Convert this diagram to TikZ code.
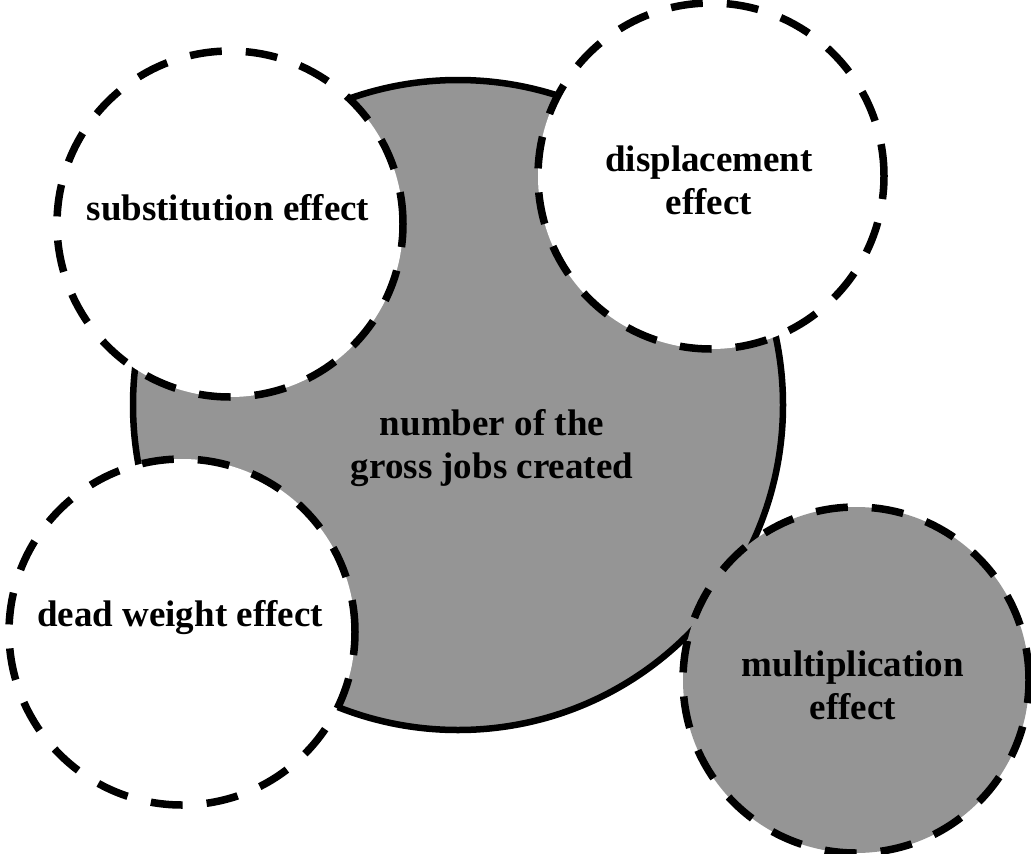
\documentclass[tikz,border=0pt]{standalone}
\usepackage{fontspec}
\setmainfont{Liberation Serif}
\definecolor{fillgray}{RGB}{149,149,149}
\tikzset{
  bigcirc/.style={circle, draw=black, line width=6.5pt, fill=fillgray, inner sep=0pt, minimum size=650pt},
  effcirc/.style={circle, draw=black, line width=7.5pt, dash pattern=on 32pt off 24pt, inner sep=0pt, minimum size=346pt},
  lbl/.style={font=\bfseries\fontsize{37}{43}\selectfont, align=center, inner sep=0pt}
}
\begin{document}
\begin{tikzpicture}[x=1pt,y=-1pt]
\useasboundingbox (0,0) rectangle (1031,854);
\node[bigcirc] (gross) at (458,405) {};
\node[effcirc, fill=white] (subst) at (230,224) {};
\node[effcirc, fill=white] (displ) at (711,176) {};
\node[effcirc, fill=white] (dead) at (182,632) {};
\node[effcirc, fill=fillgray] (multi) at (856,680) {};
\node[lbl, anchor=center] (grosst) at (492,448) {number of the\\gross jobs created};
\node[lbl, anchor=base] (substt) at (228,220) {substitution effect};
\node[lbl, anchor=center] (displt) at (709,180) {displacement\\effect};
\node[lbl, anchor=base] (deadt) at (180,626) {dead weight effect};
\node[lbl, anchor=center] (multit) at (853,685) {multiplication\\effect};
\end{tikzpicture}
\end{document}
